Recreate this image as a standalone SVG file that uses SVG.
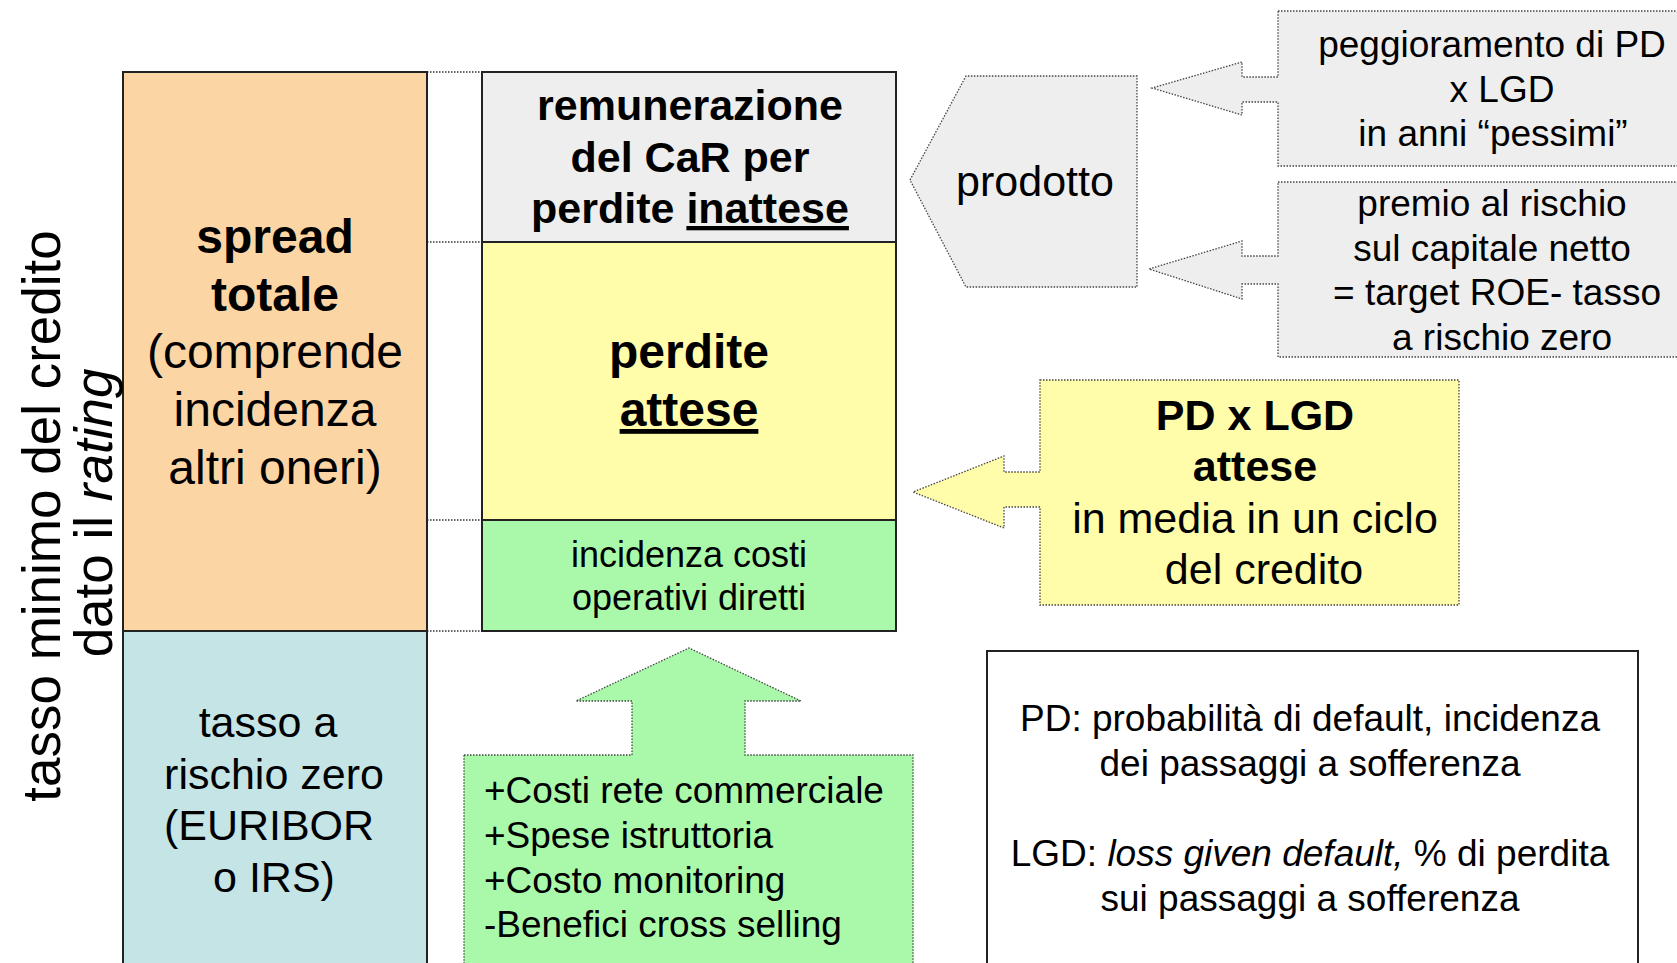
<svg xmlns="http://www.w3.org/2000/svg" width="1677" height="963" viewBox="0 0 1677 963">
<style>
text{font-family:"Liberation Sans",Arial,sans-serif;fill:#000}
.b{font-weight:bold}
.box{stroke:#222;stroke-width:2}
.dot{fill:none;stroke:#333;stroke-width:1.3;stroke-dasharray:1.5 1.5}
.call{stroke:#444;stroke-width:1.3;stroke-dasharray:1.5 1.5}
.u{text-decoration:underline}
</style>
<rect width="1677" height="963" fill="#fff"/>
<g id="connectors">
<line class="dot" x1="427" y1="72" x2="482" y2="72"/>
<line class="dot" x1="418" y1="242" x2="482" y2="242"/>
<line class="dot" x1="427" y1="520" x2="482" y2="520"/>
<line class="dot" x1="427" y1="631" x2="482" y2="631"/>
</g>
<g id="spread">
<rect class="box" x="123" y="72" width="304" height="559" fill="#FCD5A5"/>
<text text-anchor="middle" font-size="48"><tspan class="b" x="275" y="253">spread</tspan><tspan class="b" x="275" y="311">totale</tspan><tspan x="275" y="368">(comprende</tspan><tspan x="275" y="426">incidenza</tspan><tspan x="275" y="484">altri oneri)</tspan></text>
</g>
<g id="tasso-zero">
<rect class="box" x="123" y="631" width="304" height="340" fill="#C4E4E6"/>
<text text-anchor="middle" font-size="43"><tspan x="268" y="737">tasso a</tspan><tspan x="274" y="789">rischio zero</tspan><tspan x="269" y="840">(EURIBOR</tspan><tspan x="274" y="892">o IRS)</tspan></text>
</g>
<g id="asse">
<text transform="translate(60,516) rotate(-90)" text-anchor="middle" font-size="53">tasso minimo del credito</text>
<text transform="translate(112,513) rotate(-90)" text-anchor="middle" font-size="53">dato il <tspan font-style="italic">rating</tspan></text>
</g>
<g id="car">
<rect class="box" x="482" y="72" width="414" height="170" fill="#EEEEEE"/>
<text class="b" text-anchor="middle" font-size="43"><tspan x="690" y="120">remunerazione</tspan><tspan x="690" y="172">del CaR per</tspan><tspan x="690" y="223">perdite <tspan class="u">inattese</tspan></tspan></text>
</g>
<g id="perdite-attese">
<rect class="box" x="482" y="242" width="414" height="278" fill="#FFFCAA"/>
<text class="b" text-anchor="middle" font-size="48"><tspan x="689" y="368">perdite</tspan><tspan x="689" y="426" class="u">attese</tspan></text>
</g>
<g id="costi-operativi">
<rect class="box" x="482" y="520" width="414" height="111" fill="#AAF9AA"/>
<text text-anchor="middle" font-size="36"><tspan x="689" y="567">incidenza costi</tspan><tspan x="689" y="610">operativi diretti</tspan></text>
</g>
<g id="prodotto">
<path class="call" d="M910,180 L966,76 H1137 V287 H966 Z" fill="#EEEEEE"/>
<text x="1035" y="196" text-anchor="middle" font-size="43">prodotto</text>
</g>
<g id="peggioramento">
<path class="call" d="M1278,11 H1690 V166 H1278 V102 H1242 V115 L1152,88 L1242,62 V77 H1278 Z" fill="#EEEEEE"/>
<text text-anchor="middle" font-size="37"><tspan x="1492" y="57">peggioramento di PD</tspan><tspan x="1502" y="102">x LGD</tspan><tspan x="1493" y="146">in anni “pessimi”</tspan></text>
</g>
<g id="premio">
<path class="call" d="M1278,182 H1690 V357 H1278 V284 H1242 V299 L1149,269 L1242,241 V256 H1278 Z" fill="#EEEEEE"/>
<text text-anchor="middle" font-size="37"><tspan x="1492" y="216">premio al rischio</tspan><tspan x="1492" y="261">sul capitale netto</tspan><tspan x="1497" y="305">= target ROE- tasso</tspan><tspan x="1502" y="350">a rischio zero</tspan></text>
</g>
<g id="pd-lgd">
<path class="call" d="M1040,380 H1459 V605 H1040 V507 H1004 V528 L913,492 L1004,456 V472 H1040 Z" fill="#FFFCAA"/>
<text text-anchor="middle" font-size="43"><tspan class="b" x="1255" y="430">PD x LGD</tspan><tspan class="b" x="1255" y="481">attese</tspan><tspan x="1255" y="533">in media in un ciclo</tspan><tspan x="1264" y="584">del credito</tspan></text>
</g>
<g id="costi-commerciali">
<path class="call" d="M464,755 H632 V701 H576 L689,648 L801,701 H745 V755 H913 V975 H464 Z" fill="#AAF9AA"/>
<text font-size="37"><tspan x="484" y="803">+Costi rete commerciale</tspan><tspan x="484" y="848">+Spese istruttoria</tspan><tspan x="484" y="893">+Costo monitoring</tspan><tspan x="484" y="937">-Benefici cross selling</tspan></text>
</g>
<g id="legenda">
<rect x="987" y="651" width="651" height="330" fill="#fff" stroke="#222" stroke-width="2"/>
<text text-anchor="middle" font-size="37"><tspan x="1310" y="731">PD: probabilità di default, incidenza</tspan><tspan x="1310" y="776">dei passaggi a sofferenza</tspan><tspan x="1310" y="866">LGD: <tspan font-style="italic">loss given default,</tspan> % di perdita</tspan><tspan x="1310" y="911">sui passaggi a sofferenza</tspan></text>
</g>
</svg>
